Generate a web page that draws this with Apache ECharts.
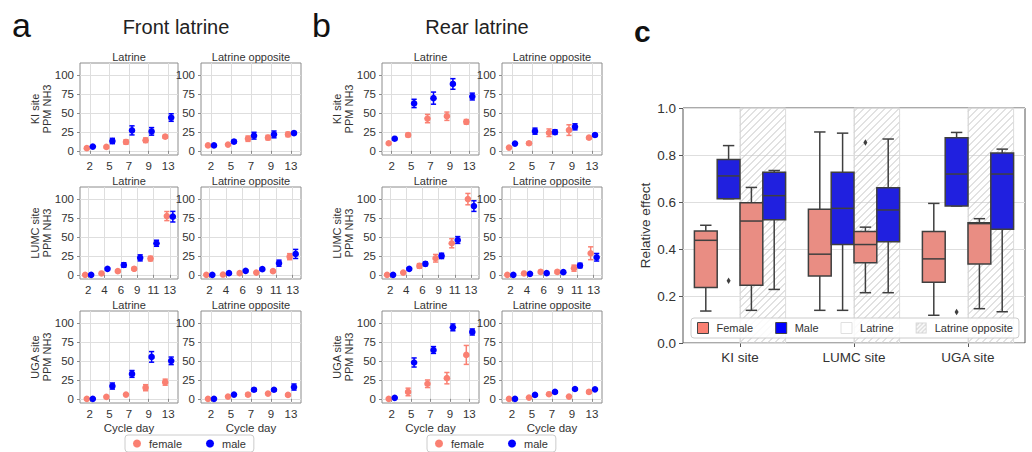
<!DOCTYPE html>
<html><head><meta charset="utf-8">
<script src="https://cdn.jsdelivr.net/npm/echarts@6/dist/echarts.min.js"></script>
<style>html,body{margin:0;padding:0;background:#fff}#chart{width:1032px;height:452px}</style>
</head><body><div id="chart"></div>
<script>
// ---------- categories / tick labels ----------
const daysKIUGA = ['2', '5', '7', '9', '13'];
const daysLUMC = ['2', '4', '6', '9', '11', '13'];
const siteNames = ['KI site', 'LUMC site', 'UGA site'];
const locNames = ['Latrine', 'Latrine opposite'];
const yTicksPPM = [0, 25, 50, 75, 100];

// ---------- panel a: Front latrine (mean PPM NH3, error half-width) ----------
const aKI_lat_f = [3.5, 5.2, 11.7, 14, 18.7];        const aKI_lat_f_err = [1, 1, 3, 3, 2];
const aKI_lat_m = [5.6, 13, 27, 25.7, 44];           const aKI_lat_m_err = [1, 3.5, 6, 5, 5];
const aKI_opp_f = [7.2, 8.3, 16, 17.4, 21.7];        const aKI_opp_f_err = [1, 1, 3.5, 3, 3];
const aKI_opp_m = [7.2, 12.2, 20, 21.7, 23.5];       const aKI_opp_m_err = [1, 2, 4.5, 4.5, 2];
const aLUMC_lat_f = [0, 1.8, 4.8, 8, 21.5, 77.6];    const aLUMC_lat_f_err = [0.5, 0.8, 1.2, 2, 3, 6];
const aLUMC_lat_m = [0, 7.9, 13, 22.4, 41.7, 76.8];  const aLUMC_lat_m_err = [0.5, 1.5, 3, 4, 4, 7];
const aLUMC_opp_f = [0, 0.4, 2.2, 3, 4.8, 24];       const aLUMC_opp_f_err = [0.3, 0.3, 0.8, 1, 1.2, 4];
const aLUMC_opp_m = [0, 2.2, 5.3, 7.5, 15.4, 27.6];  const aLUMC_opp_m_err = [0.3, 0.8, 1.2, 1.5, 4, 6];
const aUGA_lat_f = [0, 2.6, 5.6, 14.7, 22];          const aUGA_lat_f_err = [0.3, 1, 1, 4, 4];
const aUGA_lat_m = [0, 16.9, 32.9, 55.4, 50.2];      const aUGA_lat_m_err = [0.3, 4, 4.5, 7, 5];
const aUGA_opp_f = [0, 3, 5.6, 6.9, 5.2];            const aUGA_opp_f_err = [0.3, 1, 2, 1, 1];
const aUGA_opp_m = [0, 5.6, 12, 12, 15.6];           const aUGA_opp_m_err = [0.3, 1, 2, 1.5, 4];

// ---------- panel b: Rear latrine ----------
const bKI_lat_f = [10, 20.9, 42.6, 45.7, 38.3];      const bKI_lat_f_err = [1, 2.5, 5.5, 5.5, 3];
const bKI_lat_m = [16, 62.6, 69.6, 88.3, 71.7];      const bKI_lat_m_err = [1, 5.5, 8, 7, 4.5];
const bKI_opp_f = [4.3, 10, 23.9, 27.4, 17.4];       const bKI_opp_f_err = [1, 2, 5, 7, 1.5];
const bKI_opp_m = [9.6, 26, 24.8, 31.7, 20.9];       const bKI_opp_m_err = [1, 4, 3, 4, 2];
const bLUMC_lat_f = [0, 3, 11.8, 21.9, 41.7, 100];   const bLUMC_lat_f_err = [0.5, 1, 3, 5, 6, 7.5];
const bLUMC_lat_m = [0, 7.9, 14.5, 25, 46, 90.8];    const bLUMC_lat_m_err = [0.5, 1.5, 2.5, 3.5, 4.5, 7];
const bLUMC_opp_f = [0, 1.8, 3.9, 3.9, 8.8, 28.5];   const bLUMC_opp_f_err = [0.3, 0.8, 2, 2, 4, 8.5];
const bLUMC_opp_m = [0, 1.3, 2.2, 3.5, 12.3, 23.2];  const bLUMC_opp_m_err = [0.3, 0.5, 0.8, 1, 3, 5];
const bUGA_lat_f = [0, 9.1, 19.9, 27.3, 58];         const bUGA_lat_f_err = [0.5, 5, 5, 7.5, 12.5];
const bUGA_lat_m = [1.3, 48, 64.5, 94.4, 88.3];      const bUGA_lat_m_err = [0.5, 6, 4.5, 4.5, 4];
const bUGA_opp_f = [0, 1.7, 6.1, 3, 9.1];            const bUGA_opp_f_err = [0.3, 0.8, 1, 0.8, 2];
const bUGA_opp_m = [0, 5.2, 9.1, 13, 12.6];          const bUGA_opp_m_err = [0.3, 1, 1.5, 1, 1];

// ---------- panel c: relative effect boxes [low whisker, Q1, median, Q3, high whisker] ----------
const boxFemaleLatrine = [[0.136, 0.236, 0.437, 0.477, 0.501], [0.139, 0.285, 0.378, 0.569, 0.898], [0.118, 0.259, 0.358, 0.474, 0.594]];
const boxMaleLatrine   = [[0.614, 0.614, 0.711, 0.781, 0.840], [0.139, 0.419, 0.573, 0.727, 0.893], [0.583, 0.583, 0.719, 0.873, 0.896]];
const boxFemaleOpp     = [[0.139, 0.246, 0.519, 0.597, 0.662], [0.214, 0.342, 0.419, 0.474, 0.493], [0.146, 0.336, 0.508, 0.512, 0.529]];
const boxMaleOpp       = [[0.228, 0.524, 0.627, 0.727, 0.734], [0.214, 0.431, 0.566, 0.661, 0.868], [0.133, 0.484, 0.719, 0.809, 0.825]];
const outFemaleLatrine = [];
const outMaleLatrine   = [[0, 0.265], [2, 0.132]];
const outFemaleOpp     = [[1, 0.853]];
const outMaleOpp       = [];

// ---------- styling ----------
const FONT = 'Liberation Sans, Arial, sans-serif';
const salmon = '#fa8072', blue = '#0000ff';
const boxSalmon = '#e98d83', boxBlue = '#2020df';
const txt = '#333333', frame = '#8c8c8c', gridC = '#dedede', boxLine = '#3f3f3f';

const panels = [
  [ [[aKI_lat_f, aKI_lat_f_err, aKI_lat_m, aKI_lat_m_err], [aKI_opp_f, aKI_opp_f_err, aKI_opp_m, aKI_opp_m_err]],
    [[aLUMC_lat_f, aLUMC_lat_f_err, aLUMC_lat_m, aLUMC_lat_m_err], [aLUMC_opp_f, aLUMC_opp_f_err, aLUMC_opp_m, aLUMC_opp_m_err]],
    [[aUGA_lat_f, aUGA_lat_f_err, aUGA_lat_m, aUGA_lat_m_err], [aUGA_opp_f, aUGA_opp_f_err, aUGA_opp_m, aUGA_opp_m_err]] ],
  [ [[bKI_lat_f, bKI_lat_f_err, bKI_lat_m, bKI_lat_m_err], [bKI_opp_f, bKI_opp_f_err, bKI_opp_m, bKI_opp_m_err]],
    [[bLUMC_lat_f, bLUMC_lat_f_err, bLUMC_lat_m, bLUMC_lat_m_err], [bLUMC_opp_f, bLUMC_opp_f_err, bLUMC_opp_m, bLUMC_opp_m_err]],
    [[bUGA_lat_f, bUGA_lat_f_err, bUGA_lat_m, bUGA_lat_m_err], [bUGA_opp_f, bUGA_opp_f_err, bUGA_opp_m, bUGA_opp_m_err]] ]
];
const rowDays = [daysKIUGA, daysLUMC, daysKIUGA];
const colLeft = [80, 201, 382, 502];
const colWidth = [98, 100, 97, 100];
const rowTop = [63, 187, 311];
const rowHeight = 92;

function pointRender(offset, color) {
  return function (params, api) {
    const i = api.value(0), m = api.value(1), e = api.value(2);
    const c = api.coord([i, m]);
    const lo = api.coord([i, m - e])[1], hi = api.coord([i, m + e])[1];
    const x = c[0] + offset, cap = 2.6;
    const ls = { stroke: color, lineWidth: 1.5 };
    return { type: 'group', children: [
      { type: 'line', shape: { x1: x, y1: lo, x2: x, y2: hi }, style: ls },
      { type: 'line', shape: { x1: x - cap, y1: lo, x2: x + cap, y2: lo }, style: ls },
      { type: 'line', shape: { x1: x - cap, y1: hi, x2: x + cap, y2: hi }, style: ls },
      { type: 'circle', shape: { cx: x, cy: c[1], r: 3.3 }, style: { fill: color } }
    ]};
  };
}

const grid = [], xAxis = [], yAxis = [], series = [], graphic = [];
let k = 0;
for (let p = 0; p < 2; p++) {
  for (let r = 0; r < 3; r++) {
    for (let c = 0; c < 2; c++) {
      const col = p * 2 + c;
      grid.push({ left: colLeft[col], top: rowTop[r], width: colWidth[col], height: rowHeight,
        show: true, borderColor: frame, borderWidth: 1, backgroundColor: 'transparent',
        containLabel: false, outerBoundsMode: 'none' });
      xAxis.push({ gridIndex: k, type: 'category', data: rowDays[r], boundaryGap: true,
        axisLine: { show: false },
        axisTick: { show: true, alignWithLabel: true, interval: 0, length: 3, lineStyle: { color: frame } },
        splitLine: { show: true, alignWithLabel: true, interval: 0, lineStyle: { color: gridC, width: 1 } },
        axisLabel: { interval: 0, fontSize: 11.5, color: txt, margin: 5, fontFamily: FONT },
        name: r === 2 ? 'Cycle day' : '', nameLocation: 'middle', nameGap: 19, nameMoveOverlap: false,
        nameTextStyle: { fontSize: 11.5, color: txt, fontFamily: FONT } });
      yAxis.push({ gridIndex: k, type: 'value', min: -5.5, max: 116,
        axisLine: { show: false },
        axisTick: { show: true, length: 3, customValues: yTicksPPM, lineStyle: { color: frame } },
        axisLabel: { customValues: yTicksPPM, fontSize: 11.5, color: txt, margin: 6, fontFamily: FONT },
        splitLine: { show: true, lineStyle: { color: gridC, width: 1 } },
        name: c === 0 ? siteNames[r] + '\nPPM NH3' : '', nameLocation: 'middle', nameGap: 27, nameRotate: 90,
        nameMoveOverlap: false,
        nameTextStyle: { fontSize: 11, color: txt, lineHeight: 12, fontFamily: FONT } });
      const d = panels[p][r][c];
      [[d[0], d[1], 'female', salmon, -3], [d[2], d[3], 'male', blue, 3]].forEach(function (s) {
        series.push({ type: 'custom', name: s[2], xAxisIndex: k, yAxisIndex: k, z: 3,
          itemStyle: { color: s[3] },
          data: s[0].map(function (m, i) { return [i, m, s[1][i]]; }),
          renderItem: pointRender(s[4], s[3]) });
      });
      graphic.push({ type: 'text', x: colLeft[col] + colWidth[col] / 2, y: rowTop[r] - 6,
        style: { text: locNames[c], fontSize: 11, fill: txt, fontFamily: FONT,
          align: 'center', verticalAlign: 'middle', textAlign: 'center', textVerticalAlign: 'middle' } });
      k++;
    }
  }
}

// ---------- panel c ----------
const cIdx = k;
grid.push({ left: 683, top: 108, width: 342, height: 235, show: true, borderColor: '#555', borderWidth: 1,
  backgroundColor: 'transparent', containLabel: false, outerBoundsMode: 'none' });
xAxis.push({ gridIndex: cIdx, type: 'category', data: siteNames, boundaryGap: true,
  axisLine: { show: false },
  axisTick: { show: true, alignWithLabel: true, length: 4, lineStyle: { color: '#555' } },
  splitLine: { show: true, alignWithLabel: true, lineStyle: { color: gridC } },
  axisLabel: { fontSize: 13.5, color: txt, margin: 7, fontFamily: FONT } });
yAxis.push({ gridIndex: cIdx, type: 'value', min: 0, max: 1, interval: 0.2,
  axisLine: { show: false },
  axisTick: { show: true, length: 4, lineStyle: { color: '#555' } },
  axisLabel: { formatter: function (v) { return v.toFixed(1); }, fontSize: 13.5, color: txt, margin: 7, fontFamily: FONT },
  splitLine: { show: true, lineStyle: { color: gridC } },
  name: 'Relative effect', nameLocation: 'middle', nameGap: 31, nameMoveOverlap: false,
  nameTextStyle: { fontSize: 13.5, color: txt, fontFamily: FONT } });

function hatchRender(params, api) {
  const i = api.value(0);
  const band = api.size([1, 0])[0];
  const t = api.coord([i, 1]), b = api.coord([i, 0]);
  const x0 = t[0], x1 = x0 + 0.4 * band, y0 = t[1], y1 = b[1];
  const step = 7, children = [];
  for (let cst = x0 + y0 + step / 2; cst < x1 + y1; cst += step) {
    const xa = Math.max(x0, cst - y1), xb = Math.min(x1, cst - y0);
    if (xb > xa) children.push({ type: 'line', shape: { x1: xa, y1: cst - xa, x2: xb, y2: cst - xb },
      style: { stroke: '#bdbdbd', lineWidth: 0.9 } });
  }
  children.push({ type: 'rect', shape: { x: x0, y: y0, width: x1 - x0, height: y1 - y0 },
    style: { fill: 'none', stroke: '#dcdcdc', lineWidth: 1 } });
  return { type: 'group', children: children };
}
series.push({ type: 'custom', name: 'Latrine', xAxisIndex: cIdx, yAxisIndex: cIdx, data: [],
  itemStyle: { color: '#fff' }, renderItem: function () { return null; } });
series.push({ type: 'custom', name: 'Latrine opposite', xAxisIndex: cIdx, yAxisIndex: cIdx, z: 1,
  itemStyle: { color: '#ccc' }, silent: true,
  data: siteNames.map(function (s, i) { return [i]; }), renderItem: hatchRender });

function boxRender(slot, fill) {
  return function (params, api) {
    const i = api.value(0);
    const band = api.size([1, 0])[0];
    const w = 0.2 * band;
    const cx = api.coord([i, 0])[0] + (slot - 1.5) * w;
    const y = function (v) { return api.coord([i, v])[1]; };
    const lo = y(api.value(1)), q1 = y(api.value(2)), md = y(api.value(3)), q3 = y(api.value(4)), hi = y(api.value(5));
    const ls = { stroke: boxLine, lineWidth: 1.5 };
    return { type: 'group', children: [
      { type: 'line', shape: { x1: cx, y1: q3, x2: cx, y2: hi }, style: ls },
      { type: 'line', shape: { x1: cx, y1: q1, x2: cx, y2: lo }, style: ls },
      { type: 'line', shape: { x1: cx - w / 4, y1: hi, x2: cx + w / 4, y2: hi }, style: ls },
      { type: 'line', shape: { x1: cx - w / 4, y1: lo, x2: cx + w / 4, y2: lo }, style: ls },
      { type: 'rect', shape: { x: cx - w / 2, y: q3, width: w, height: q1 - q3 }, style: { fill: fill, stroke: boxLine, lineWidth: 1.5 } },
      { type: 'line', shape: { x1: cx - w / 2, y1: md, x2: cx + w / 2, y2: md }, style: ls }
    ]};
  };
}
function outlierRender(slot) {
  return function (params, api) {
    const i = api.value(0);
    const band = api.size([1, 0])[0];
    const c = api.coord([i, api.value(1)]);
    const cx = c[0] + (slot - 1.5) * 0.2 * band, cy = c[1];
    return { type: 'polygon', shape: { points: [[cx, cy - 3.2], [cx + 2, cy], [cx, cy + 3.2], [cx - 2, cy]] },
      style: { fill: boxLine } };
  };
}
[[boxFemaleLatrine, outFemaleLatrine, 'Female', boxSalmon],
 [boxMaleLatrine, outMaleLatrine, 'Male', boxBlue],
 [boxFemaleOpp, outFemaleOpp, 'Female', boxSalmon],
 [boxMaleOpp, outMaleOpp, 'Male', boxBlue]].forEach(function (g, slot) {
  series.push({ type: 'custom', name: g[2], xAxisIndex: cIdx, yAxisIndex: cIdx, z: 3,
    itemStyle: { color: g[3] },
    data: g[0].map(function (b, i) { return [i].concat(b); }), renderItem: boxRender(slot, g[3]) });
  series.push({ type: 'custom', name: g[2], xAxisIndex: cIdx, yAxisIndex: cIdx, z: 3,
    itemStyle: { color: g[3] }, data: g[1], renderItem: outlierRender(slot) });
});

function hatchIcon() {
  const cv = document.createElement('canvas'); cv.width = 22; cv.height = 22;
  const g = cv.getContext('2d');
  g.fillStyle = '#fff'; g.fillRect(0, 0, 22, 22);
  g.strokeStyle = '#c2c2c2'; g.lineWidth = 1.6;
  for (let c = -22; c < 44; c += 8) { g.beginPath(); g.moveTo(c, 22); g.lineTo(c + 22, 0); g.stroke(); }
  g.strokeStyle = '#d8d8d8'; g.lineWidth = 2; g.strokeRect(1, 1, 20, 20);
  return cv.toDataURL();
}

// ---------- titles / panel letters ----------
graphic.push(
  { type: 'text', x: 12, y: 8, style: { text: 'a', fontSize: 34, fill: '#111', fontFamily: FONT } },
  { type: 'text', x: 312, y: 8, style: { text: 'b', fontSize: 34, fill: '#111', fontFamily: FONT } },
  { type: 'text', x: 634, y: 16, style: { text: 'c', fontSize: 30, fontWeight: 'bold', fill: '#111', fontFamily: FONT } },
  { type: 'text', x: 176, y: 27, style: { text: 'Front latrine', fontSize: 20, fill: '#222', fontFamily: FONT,
    align: 'center', verticalAlign: 'middle', textAlign: 'center', textVerticalAlign: 'middle' } },
  { type: 'text', x: 477, y: 27, style: { text: 'Rear latrine', fontSize: 20, fill: '#222', fontFamily: FONT,
    align: 'center', verticalAlign: 'middle', textAlign: 'center', textVerticalAlign: 'middle' } }
);

const legendSmall = function (left) {
  return { left: left, top: 435, orient: 'horizontal', selectedMode: false,
    data: [{ name: 'female', itemStyle: { color: salmon } }, { name: 'male', itemStyle: { color: blue } }],
    icon: 'circle', itemWidth: 8, itemHeight: 8, itemGap: 24,
    borderColor: '#cccccc', borderWidth: 1, borderRadius: 3, padding: [3, 8, 3, 8],
    backgroundColor: '#fff', textStyle: { fontSize: 11, color: txt, fontFamily: FONT, padding: [0, 0, 0, 3] } };
};

const option = {
  animation: false,
  backgroundColor: '#ffffff',
  textStyle: { fontFamily: FONT },
  grid: grid, xAxis: xAxis, yAxis: yAxis, series: series, graphic: graphic,
  legend: [
    legendSmall(125),
    legendSmall(427),
    { left: 691, top: 318, selectedMode: false, orient: 'horizontal',
      itemWidth: 11, itemHeight: 11, itemGap: 22,
      borderColor: '#cccccc', borderWidth: 1, borderRadius: 3, padding: [4, 6, 4, 6],
      backgroundColor: 'rgba(255,255,255,0.85)',
      textStyle: { fontSize: 11, color: txt, fontFamily: FONT, padding: [0, 0, 0, 3] },
      data: [
        { name: 'Female', icon: 'rect', itemStyle: { color: salmon, borderColor: '#444', borderWidth: 1 } },
        { name: 'Male', icon: 'rect', itemStyle: { color: blue, borderColor: '#444', borderWidth: 1 } },
        { name: 'Latrine', icon: 'rect', itemStyle: { color: '#ffffff', borderColor: '#e0e0e0', borderWidth: 1 } },
        { name: 'Latrine opposite', icon: 'image://' + hatchIcon() }
      ] }
  ]
};
const chart = echarts.init(document.getElementById('chart'), null, { renderer: 'svg' });
chart.setOption(option);
</script></body></html>
